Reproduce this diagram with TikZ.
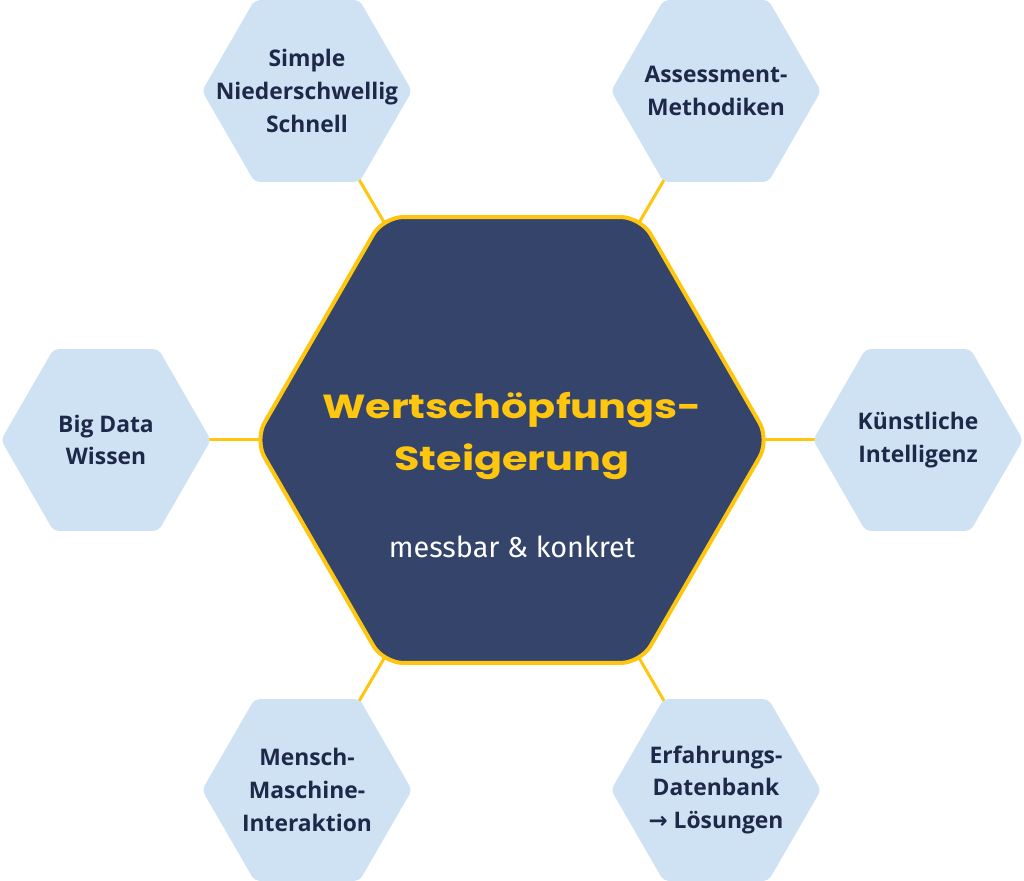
\documentclass[tikz,border=0pt]{standalone}
\usepackage{fontspec}
\setmainfont{Fira Sans}
\newfontfamily\hexfont{Open Sans}
\newfontfamily\symfont{DejaVu Sans}
\newfontfamily\titlefont[FakeStretch=1.24]{Poppins}
\usetikzlibrary{shapes.geometric,backgrounds}

\definecolor{coreblue}{HTML}{34446B}
\definecolor{gold}{HTML}{FEC60E}
\definecolor{hexblue}{HTML}{CFE2F3}
\definecolor{inkblue}{HTML}{1E2848}

\tikzset{
  hexa/.style={regular polygon, regular polygon sides=6, minimum size=4.2cm,
    inner sep=0pt, fill=hexblue, rounded corners=0.1cm},
  hextext/.style={align=center, text=inkblue,
    font=\hexfont\bfseries\fontsize{13}{18.7}\selectfont},
  corehex/.style={regular polygon, regular polygon sides=6, minimum size=10.3cm,
    inner sep=0pt, fill=coreblue, draw=gold, line width=0.08cm,
    rounded corners=0.4cm},
  link/.style={draw=gold, line width=0.06cm}
}

\begin{document}
\begin{tikzpicture}[x=0.02cm, y=-0.02cm]
    \useasboundingbox (0,0) rectangle (1024,881);
    \node [corehex] (core) at (512,440) {};
    \node [text=gold, align=center, font=\titlefont\bfseries\fontsize{19}{29.5}\selectfont] (title) at (512,436) {Wertschöpfungs-\\Steigerung};
    \node [text=white, font=\fontsize{16.4}{18}\selectfont] (sub) at (512,547) {messbar \& konkret};
    \node [hexa] (simple) at (307,91) {};
    \node [hexa] (assess) at (716,91) {};
    \node [hexa] (bigdata) at (106,440) {};
    \node [hexa] (ki) at (918,440) {};
    \node [hexa] (mmi) at (307,790) {};
    \node [hexa] (erfahrung) at (716,790) {};
    \node [hextext] (simple-t) at (simple) {Simple\\Niederschwellig\\Schnell};
    \node [hextext] (assess-t) at (assess) {Assessment-\\Methodiken};
    \node [hextext] (bigdata-t) at (bigdata) {Big Data\\Wissen};
    \node [hextext] (ki-t) at (ki) {Künstliche\\Intelligenz};
    \node [hextext] (mmi-t) at (mmi) {Mensch-\\Maschine-\\Interaktion};
    \node [hextext] (erfahrung-t) at (erfahrung) {Erfahrungs-\\Datenbank\\{\symfont\bfseries →} Lösungen};
    \begin{scope}[on background layer]
    \draw [link] (simple.center) -- (core.center);
    \draw [link] (assess.center) -- (core.center);
    \draw [link] (bigdata.center) -- (core.center);
    \draw [link] (ki.center) -- (core.center);
    \draw [link] (mmi.center) -- (core.center);
    \draw [link] (erfahrung.center) -- (core.center);
    \end{scope}
\end{tikzpicture}
\end{document}
